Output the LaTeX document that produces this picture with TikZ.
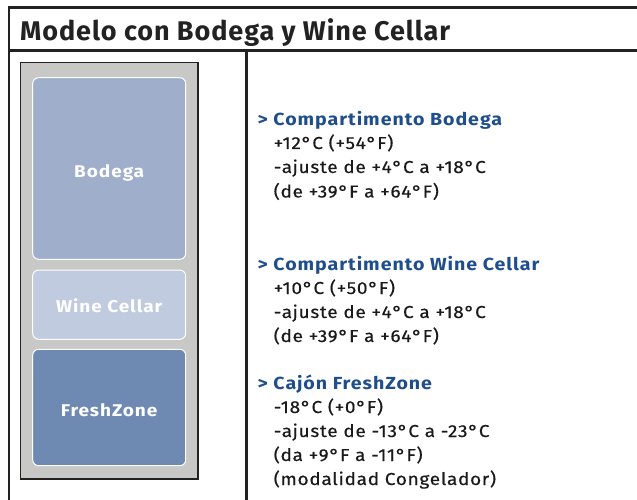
\documentclass[tikz,border=0pt]{standalone}
\usepackage{fontspec}
\setmainfont{Fira Sans}
\newfontfamily\titlefont[LetterSpace=3.5]{Fira Sans}
\newfontfamily\headfont[LetterSpace=5.5,FakeStretch=1.12]{Fira Sans}
\newfontfamily\bodyfont[LetterSpace=4,FakeStretch=1.1,FakeBold=0.4]{Fira Sans}
\definecolor{frameline}{HTML}{222222}
\definecolor{fridgegray}{HTML}{C8C8C6}
\definecolor{bodegafill}{HTML}{9FAECB}
\definecolor{winefill}{HTML}{C0CBDF}
\definecolor{freshfill}{HTML}{6E8AB2}
\definecolor{headblue}{HTML}{1F4E8C}
\definecolor{bodytext}{HTML}{1A1A1A}
\begin{document}
\begin{tikzpicture}[x=1pt,y=-1pt,
  rule/.style={draw=frameline,line width=2.2pt},
  compart/.style={draw=white,line width=1pt,rounded corners=6pt},
  complabel/.style={text=white,font=\headfont\fontsize{17}{20}\selectfont\bfseries,inner sep=0pt},
  headtext/.style={anchor=base west,inner sep=0pt,text=headblue,font=\headfont\fontsize{17.5}{20}\selectfont\bfseries},
  bodyline/.style={anchor=base west,inner sep=0pt,text=bodytext,font=\bodyfont\fontsize{17.3}{20}\selectfont}]
\useasboundingbox (0,0) rectangle (637,500);
\fill[white] (0,0) rectangle (637,500);
% frame lines
\draw[rule] (8,7.5) -- (637,7.5);
\draw[rule] (8,50.5) -- (637,50.5);
\draw[rule] (9,6.4) -- (9,500);
\draw[rule] (246.5,50.5) -- (246.5,500);
% title
\node[anchor=base west,inner sep=0pt,text=frameline,font=\titlefont\fontsize{27}{30}\selectfont\bfseries] (title) at (20,40.5) {Modelo con Bodega y Wine Cellar};
% fridge
\draw[draw=frameline,fill=fridgegray,line width=1.3pt] (20.7,62.3) rectangle (198,479);
\draw[compart,fill=bodegafill] (32.7,77.7) rectangle (185.7,259.3);
\draw[compart,fill=winefill] (32.7,270) rectangle (185.7,339.3);
\draw[compart,fill=freshfill] (32.7,349.3) rectangle (185.7,465.7);
\node[complabel] (lbodega) at (109.2,173) {Bodega};
\node[complabel] (lwine) at (109.2,306) {Wine Cellar};
\node[complabel] (lfresh) at (109.2,410) {FreshZone};
% texts
\node[headtext] (h1) at (257.5,125) {> Compartimento Bodega};
\node[bodyline] (b11) at (273.5,149) {+12°C (+54°F)};
\node[bodyline] (b12) at (273.5,173) {-ajuste de +4°C a +18°C};
\node[bodyline] (b13) at (273.5,197.5) {(de +39°F a +64°F)};
\node[headtext] (h2) at (257.5,270) {> Compartimento Wine Cellar};
\node[bodyline] (b21) at (273.5,294) {+10°C (+50°F)};
\node[bodyline] (b22) at (273.5,318) {-ajuste de +4°C a +18°C};
\node[bodyline] (b23) at (273.5,342) {(de +39°F a +64°F)};
\node[headtext] (h3) at (257.5,389) {> Cajón FreshZone};
\node[bodyline] (b31) at (273.5,413) {-18°C (+0°F)};
\node[bodyline] (b32) at (273.5,437) {-ajuste de -13°C a -23°C};
\node[bodyline] (b33) at (273.5,461) {(da +9°F a -11°F)};
\node[bodyline] (b34) at (273.5,485) {(modalidad Congelador)};
\end{tikzpicture}
\end{document}
